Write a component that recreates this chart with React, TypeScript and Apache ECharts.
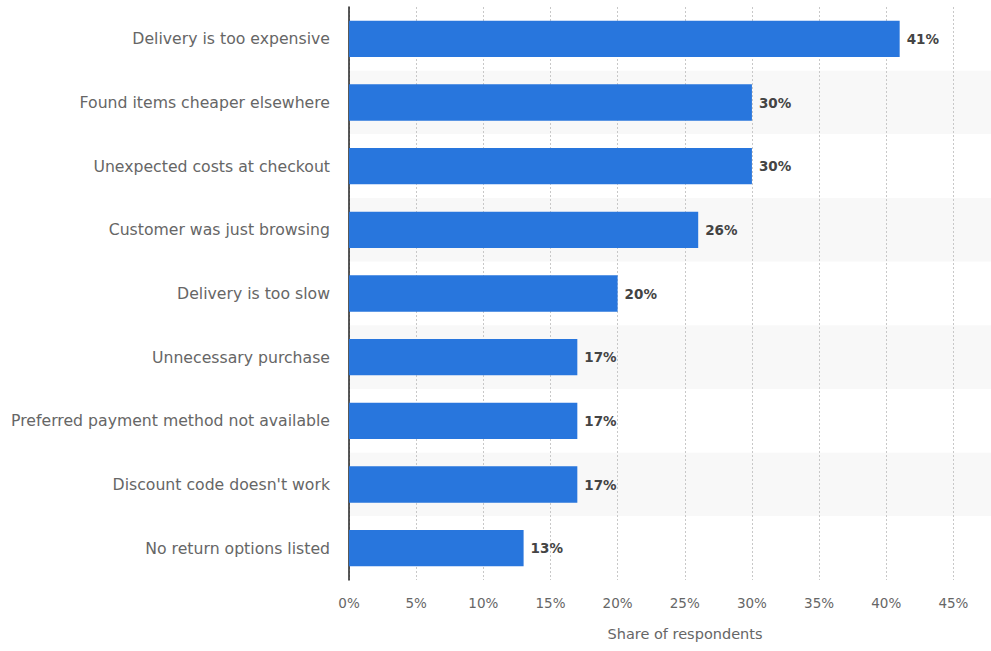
import React, { useEffect, useRef } from "react";
import * as echarts from "echarts";

const categories = [
  "Delivery is too expensive",
  "Found items cheaper elsewhere",
  "Unexpected costs at checkout",
  "Customer was just browsing",
  "Delivery is too slow",
  "Unnecessary purchase",
  "Preferred payment method not available",
  "Discount code doesn't work",
  "No return options listed",
];
const values = [41, 30, 30, 26, 20, 17, 17, 17, 13];
const axisName = "Share of respondents";

export default function App() {
  const ref = useRef<HTMLDivElement>(null);
  useEffect(() => {
    if (!ref.current) return;
    const chart = echarts.init(ref.current, null, { renderer: "svg" });
    const font = "'DejaVu Sans', sans-serif";
    chart.setOption({
      animation: false,
      textStyle: { fontFamily: font },
      grid: { left: 349, right: 0, top: 7, bottom: 71, containLabel: false },
      xAxis: {
        type: "value",
        min: 0,
        max: 47.8,
        interval: 5,
        name: axisName,
        nameLocation: "middle",
        nameGap: 46,
        nameTextStyle: { color: "#666", fontSize: 14.5, fontFamily: font, padding: [0, 0, 0, 30] },
        axisLine: { show: false },
        axisTick: { show: false },
        axisLabel: {
          color: "#666",
          fontSize: 13.5,
          margin: 16,
          fontFamily: font,
          showMaxLabel: false,
          formatter: (v: number) => (v % 5 === 0 ? v + "%" : ""),
        },
        splitLine: {
          show: true,
          showMaxLine: false,
          lineStyle: { color: "#c8c8c8", type: [2, 2], width: 1 },
        },
      },
      yAxis: {
        type: "category",
        data: categories,
        inverse: true,
        axisLine: { show: true, lineStyle: { color: "#222", width: 1.5 } },
        axisTick: { show: false },
        axisLabel: { color: "#666", fontSize: 15.7, margin: 19, fontFamily: font },
        splitArea: { show: true, areaStyle: { color: ["#ffffff", "#f8f8f8"] } },
      },
      series: [
        {
          type: "bar",
          data: values,
          barWidth: "57%",
          itemStyle: { color: "#2876dd" },
          label: {
            show: true,
            position: "right",
            distance: 7,
            formatter: "{c}%",
            color: "#444",
            fontWeight: "bold",
            fontSize: 13.5,
            fontFamily: font,
          },
        },
      ],
    });
    return () => chart.dispose();
  }, []);
  return <div ref={ref} style={{ width: 991, height: 651, position: "absolute", left: 0, top: 0 }} />;
}
